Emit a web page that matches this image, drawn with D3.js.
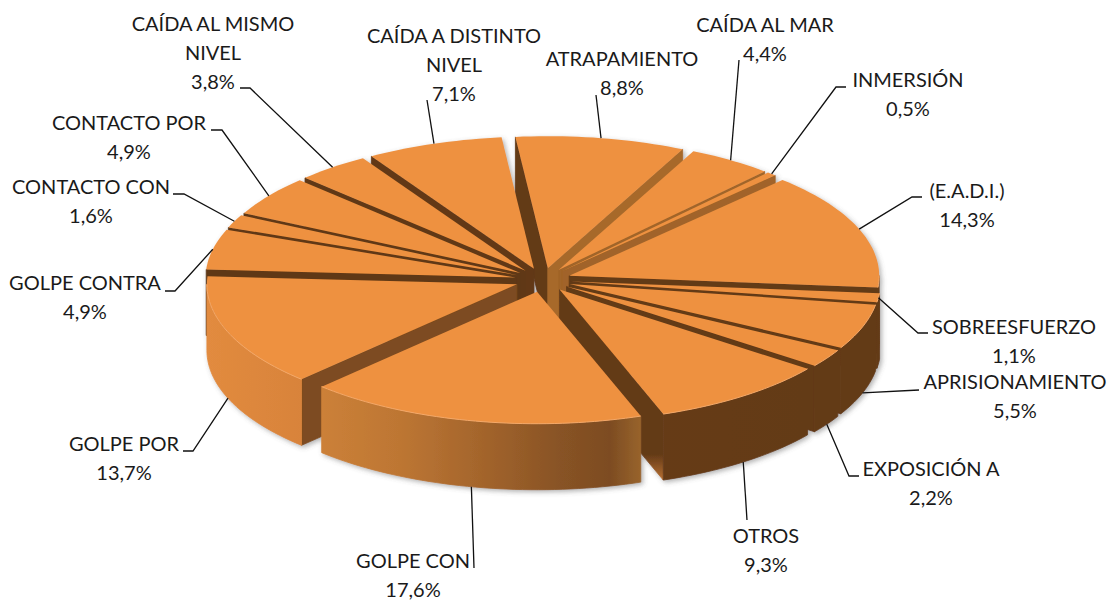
<!DOCTYPE html>
<html>
<head>
<meta charset="utf-8">
<script src="https://cdn.jsdelivr.net/npm/d3@7/dist/d3.min.js"></script>
<style>
  html, body { margin: 0; padding: 0; background: #fff; }
  svg { display: block; }
  text { font-family: Lato, "Open Sans", sans-serif; font-size: 20px; fill: #1a1a1a; }
</style>
</head>
<body>
<div id="chart"></div>
<script>
// data, clockwise from the top
var categories = ["ATRAPAMIENTO", "CAÍDA AL MAR", "INMERSIÓN", "(E.A.D.I.)", "SOBREESFUERZO",
  "APRISIONAMIENTO", "EXPOSICIÓN A", "OTROS", "GOLPE CON", "GOLPE POR", "GOLPE CONTRA",
  "CONTACTO CON", "CONTACTO POR", "CAÍDA AL MISMO NIVEL", "CAÍDA A DISTINTO NIVEL"];
var values = [8.8, 4.4, 0.5, 14.3, 1.1, 5.5, 2.2, 9.3, 17.6, 13.7, 4.9, 1.6, 4.9, 3.8, 7.1];

// label placement: x center, first baseline, leader elbow and end
var labelLayout = [
  { x: 622, y: 66, pts: [[596, 95]] },
  { x: 765, y: 32, pts: [[739, 60]] },
  { x: 908, y: 87, pts: [[836, 87], [846, 87]] },
  { x: 967, y: 198, pts: [[912, 197], [922, 197]] },
  { x: 1014, y: 334, pts: [[918, 333], [928, 333]] },
  { x: 1015, y: 389, pts: [[919, 390]] },
  { x: 931, y: 476, pts: [[849, 476], [859, 476]] },
  { x: 766, y: 543, pts: [[747, 520]] },
  { x: 413, y: 568, pts: [[474, 568]] },
  { x: 124, y: 451, pts: [[193, 451], [183, 451]] },
  { x: 85, y: 290, pts: [[175, 291], [165, 291]] },
  { x: 91, y: 194, pts: [[184, 194], [173, 194]] },
  { x: 129, y: 130, pts: [[222, 130], [211, 130]] },
  { x: 213, y: 31, pts: [[250, 88], [240, 88]] },
  { x: 454, y: 43, pts: [[427, 100]] }
];
var labelBreaks = { "CAÍDA AL MISMO NIVEL": ["CAÍDA AL MISMO", "NIVEL"], "CAÍDA A DISTINTO NIVEL": ["CAÍDA A DISTINTO", "NIVEL"] };

var width = 1110, height = 600;
var cx = 543, cy = 280, rx = 310, tilt = 0.426, explode = 28, thick = 66;
var lineGap = 29;
var startDeg = -6;
var rad = Math.PI / 180;

var svg = d3.select("#chart").append("svg").attr("width", width).attr("height", height);
var defs = svg.append("defs");

// soft shadow under the pie
var shadow = defs.append("filter").attr("id", "shade").attr("x", "-5%").attr("y", "-5%").attr("width", "110%").attr("height", "115%");
shadow.append("feDropShadow").attr("dx", 2).attr("dy", 2).attr("stdDeviation", 2.5)
  .attr("flood-color", "#555").attr("flood-opacity", 0.45);

// outer wall colour follows x across the chart
var wallStops = [[205, "#e28b3f"], [303, "#d8833a"], [325, "#cb8038"], [400, "#bd7633"], [480, "#a4652c"],
  [560, "#885325"], [610, "#7d4c22"], [643, "#9a652d"], [648, "#663b17"], [882, "#633a17"]];
var wallGrad = defs.append("linearGradient").attr("id", "wall").attr("gradientUnits", "userSpaceOnUse")
  .attr("x1", 205).attr("x2", 882).attr("y1", 0).attr("y2", 0);
var xOffset = d3.scaleLinear().domain([205, 882]).range([0, 1]);
wallStops.forEach(function (s) {
  wallGrad.append("stop").attr("offset", xOffset(s[0])).attr("stop-color", s[1]);
});

// the cut face next to GOLPE CON gets lighter toward its bottom tip
var tipGrad = defs.append("linearGradient").attr("id", "tip").attr("gradientUnits", "userSpaceOnUse")
  .attr("x1", 0).attr("x2", 0).attr("y1", 415).attr("y2", 480);
tipGrad.append("stop").attr("offset", 0.6).attr("stop-color", "#633a17");
tipGrad.append("stop").attr("offset", 1).attr("stop-color", "#b87033");

// cut face colour by edge angle
var faceTone = d3.scaleLinear()
  .domain([0, 45, 90, 160, 224, 270, 360])
  .range(["#b0702e", "#a06429", "#633a17", "#633a17", "#7d4b20", "#5f3815", "#633a17"]);

var pie = d3.pie().sort(null)
  .startAngle(startDeg * rad)
  .endAngle((startDeg + 360) * rad);
var arcs = pie(values);

function project(d, angle, r, z) {
  var mid = (d.startAngle + d.endAngle) / 2;
  var px = explode * Math.sin(mid) + r * Math.sin(angle);
  var py = explode * Math.cos(mid) + r * Math.cos(angle);
  return [cx + px, cy - py * tilt + (z || 0)];
}
function arcPoints(d, a0, a1, z) {
  var n = Math.max(2, Math.ceil((a1 - a0) / (1.5 * rad)));
  return d3.range(n + 1).map(function (i) {
    return project(d, a0 + (a1 - a0) * i / n, rx, z);
  });
}
var line = d3.line();
function closed(pts) { return line(pts) + "Z"; }
function norm(deg) { return ((deg % 360) + 360) % 360; }

var pieG = svg.append("g").attr("filter", "url(#shade)");

// back slices first
var order = arcs.slice().sort(function (a, b) {
  var ma = (a.startAngle + a.endAngle) / 2, mb = (b.startAngle + b.endAngle) / 2;
  return Math.cos(mb) - Math.cos(ma);
});

order.forEach(function (d) {
  var g = pieG.append("g");
  [d.startAngle, d.endAngle].forEach(function (a, i) {
    var deg = norm(a / rad);
    var visible = i === 0 ? deg > 180 : deg < 180;
    if (!visible) return;
    var tone = categories[d.index] === "OTROS" ? "url(#tip)" : faceTone(deg);
    g.append("path")
      .attr("d", closed([project(d, a, 0), project(d, a, rx), project(d, a, rx, thick), project(d, a, 0, thick)]))
      .attr("fill", tone).attr("stroke", tone).attr("stroke-width", 0.8);
  });
  // outer wall, only the part facing the viewer
  var a0 = Math.max(d.startAngle, 90 * rad), a1 = Math.min(d.endAngle, 270 * rad);
  if (a1 > a0) {
    g.append("path")
      .attr("d", closed(arcPoints(d, a0, a1, 0).concat(arcPoints(d, a0, a1, thick).reverse())))
      .attr("fill", "url(#wall)").attr("stroke", "url(#wall)").attr("stroke-width", 0.8);
  }
  // top face
  g.append("path")
    .attr("d", closed([project(d, d.startAngle, 0)].concat(arcPoints(d, d.startAngle, d.endAngle, 0))))
    .attr("fill", "#ee9140");
  if (a1 > a0) {
    g.append("path")
      .attr("d", line(arcPoints(d, a0, a1, 0)))
      .attr("fill", "none").attr("stroke", "#f4a868").attr("stroke-width", 1);
  }
});

// leaders and labels
var labels = svg.append("g");
arcs.forEach(function (d, i) {
  var mid = (d.startAngle + d.endAngle) / 2;
  var midDeg = norm(mid / rad);
  var start = project(d, mid, rx, midDeg > 100 && midDeg < 260 ? thick : 0);
  var lay = labelLayout[i];
  labels.append("path")
    .attr("d", line([start].concat(lay.pts)))
    .attr("fill", "none").attr("stroke", "#111").attr("stroke-width", 1.3);
  var lines = (labelBreaks[categories[i]] || [categories[i]]).concat(values[i].toFixed(1).replace(".", ",") + "%");
  var t = labels.append("text").attr("text-anchor", "middle");
  lines.forEach(function (s, j) {
    t.append("tspan").attr("x", lay.x).attr("y", lay.y + j * lineGap).text(s);
  });
});
</script>
</body>
</html>
